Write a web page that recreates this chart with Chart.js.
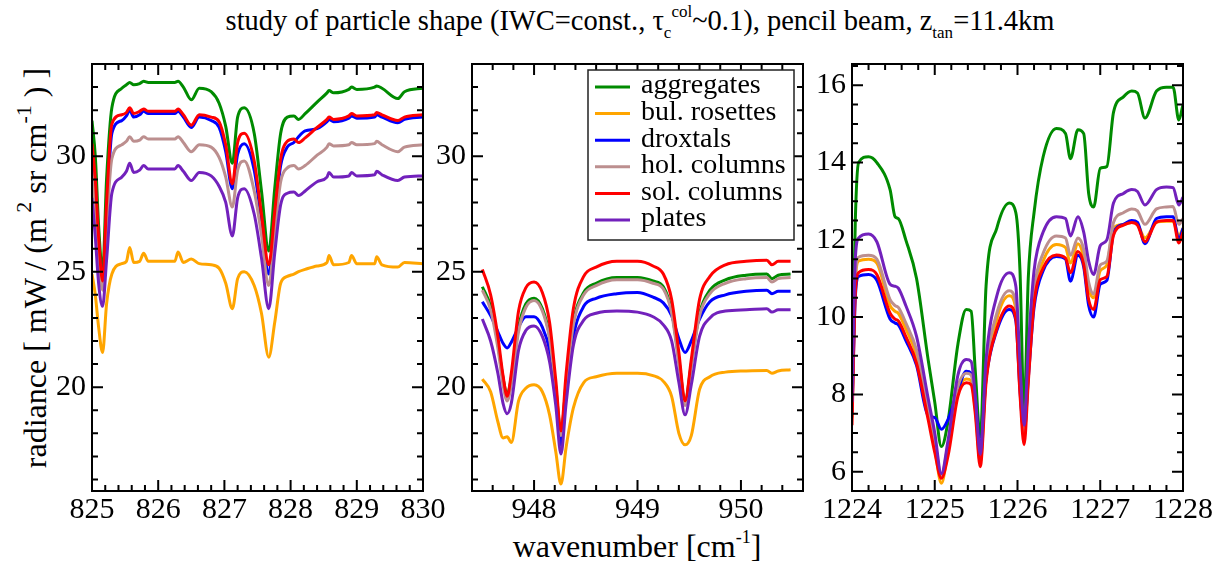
<!DOCTYPE html>
<html>
<head>
<meta charset="utf-8">
<script src="https://cdn.jsdelivr.net/npm/chart.js@4.4.1/dist/chart.umd.min.js"></script>
<style>
  body { margin: 0; background: #fff; width: 1223px; height: 567px; position: relative; overflow: hidden;
         font-family: "Liberation Serif", "Times New Roman", Times, serif; color: #000; }
  canvas { position: absolute; top: 40px; }
  #title { position: absolute; left: 640px; top: 7px; font-size: 28.5px; line-height: 1; white-space: nowrap;
           transform: translateX(-50%); }
  #ylab { position: absolute; left: 35px; top: 268px; font-size: 32px; line-height: 1; white-space: nowrap;
          transform: translate(-50%, -50%) rotate(-90deg); }
  #xlab { position: absolute; left: 637px; top: 530px; font-size: 32px; line-height: 1; white-space: nowrap;
          transform: translateX(-50%); }
  .sub { font-size: 17px; position: relative; top: 8px; }
  .sup { font-size: 17px; position: relative; top: -13px; }
  .ysup { font-size: 22px; position: relative; top: -15px; }
  .xsup { font-size: 18px; position: relative; top: -14px; }
</style>
</head>
<body>
<div id="title">study of particle shape (IWC=const., &tau;<span class="sub">c</span><span class="sup">col</span>~0.1), pencil beam, z<span class="sub">tan</span>=11.4km</div>
<div id="ylab">radiance [ mW / (m<span class="ysup">&nbsp;2</span> sr cm<span class="ysup">-1</span>&nbsp;) ]</div>
<div id="xlab">wavenumber [cm<span class="xsup">-1</span>]</div>
<canvas id="c825" width="462" height="527" style="left:0px"></canvas>
<canvas id="c948" width="430" height="527" style="left:410px"></canvas>
<canvas id="c1224" width="425" height="527" style="left:798px"></canvas>
<script>
// particle habits, in legend order
const shapes = ["aggregates", "bul. rosettes", "droxtals", "hol. columns", "sol. columns", "plates"];
const colors = ["#008b00", "#ffa500", "#0000ff", "#bc8f8f", "#ff0000", "#7221bc"];

// window 825-830 cm-1
const wn825 = [825.00, 825.05, 825.10, 825.16, 825.22, 825.30, 825.45, 825.52, 825.57, 825.63, 825.72, 825.78, 825.85,
  826.00, 826.25, 826.30, 826.38, 826.50, 826.62, 826.80, 826.92, 827.02, 827.12, 827.20, 827.30, 827.45, 827.56,
  827.67, 827.76, 827.85, 827.95, 828.05, 828.12, 828.22, 828.40, 828.55, 828.58, 828.65, 828.88, 828.92, 829.00,
  829.27, 829.30, 829.38, 829.62, 829.72, 830.00];
const agg825 = [31.55, 30.0, 27.0, 25.0, 29.0, 32.1, 32.95, 33.1, 33.2, 33.1, 33.15, 33.25, 33.2,
  33.2, 33.2, 33.25, 33.0, 32.45, 32.95, 32.8, 32.3, 31.3, 29.7, 31.7, 32.1, 31.0, 28.5,
  25.9, 28.6, 31.0, 31.7, 31.75, 31.6, 31.85, 32.35, 32.75, 32.85, 32.75, 32.9, 33.0, 32.9,
  33.0, 33.05, 32.95, 32.5, 32.8, 32.95];
const bul825 = [24.9, 24.0, 22.6, 21.5, 23.6, 24.9, 25.35, 25.45, 26.05, 25.4, 25.45, 25.8, 25.45,
  25.45, 25.45, 25.85, 25.4, 25.55, 25.35, 25.3, 25.15, 24.5, 23.4, 24.7, 25.0, 24.4, 23.2,
  21.3, 22.8, 24.5, 24.8, 24.9, 25.0, 25.1, 25.25, 25.4, 25.7, 25.3, 25.4, 25.7, 25.35,
  25.35, 25.65, 25.3, 25.2, 25.4, 25.35];
const drox825 = [30.3, 28.7, 26.2, 24.4, 27.5, 31.0, 31.55, 31.75, 32.0, 31.7, 31.8, 31.95, 31.85,
  31.85, 31.85, 31.95, 31.7, 31.25, 31.7, 31.55, 31.25, 30.2, 28.6, 30.1, 30.55, 29.4, 27.2,
  24.9, 27.3, 29.6, 30.4, 30.6, 30.85, 31.1, 31.2, 31.5, 31.6, 31.5, 31.65, 31.75, 31.65,
  31.7, 31.8, 31.7, 31.45, 31.6, 31.7];
const hol825 = [29.35, 27.8, 25.6, 24.2, 27.0, 29.9, 30.5, 30.65, 30.85, 30.65, 30.7, 30.85, 30.75,
  30.75, 30.75, 30.85, 30.6, 30.2, 30.5, 30.4, 29.95, 29.1, 27.8, 29.4, 29.8, 28.5, 26.6,
  24.4, 26.7, 28.9, 29.5, 29.6, 29.45, 29.6, 30.05, 30.4, 30.55, 30.45, 30.5, 30.6, 30.5,
  30.55, 30.65, 30.5, 30.2, 30.4, 30.5];
const sol825 = [30.55, 29.0, 26.5, 24.6, 28.0, 31.4, 31.8, 31.9, 32.1, 31.85, 31.95, 32.05, 31.95,
  31.95, 31.95, 32.05, 31.8, 31.35, 31.8, 31.7, 31.5, 30.5, 28.8, 30.6, 31.0, 29.8, 27.5,
  25.3, 27.6, 29.9, 30.65, 30.75, 30.6, 30.8, 31.25, 31.6, 31.7, 31.6, 31.75, 31.85, 31.75,
  31.8, 31.9, 31.8, 31.55, 31.7, 31.8];
const plt825 = [28.2, 26.5, 24.5, 23.5, 25.5, 28.4, 29.1, 29.35, 29.7, 29.3, 29.4, 29.6, 29.45,
  29.45, 29.45, 29.6, 29.35, 28.95, 29.3, 29.15, 28.7, 28.0, 26.55, 28.2, 28.6, 27.5, 25.6,
  23.4, 25.8, 27.9, 28.4, 28.45, 28.3, 28.5, 28.9, 29.1, 29.3, 29.1, 29.15, 29.3, 29.15,
  29.2, 29.35, 29.2, 28.95, 29.1, 29.15];

// window 947.5-950.5 cm-1
const wn948 = [947.50, 947.58, 947.65, 947.70, 947.74, 947.78, 947.85, 947.92, 948.00, 948.08, 948.15, 948.21,
  948.26, 948.31, 948.38, 948.48, 948.60, 948.80, 949.00, 949.15, 949.25, 949.33, 949.40, 949.46, 949.52,
  949.60, 949.70, 949.85, 950.05, 950.25, 950.30, 950.36, 950.48];
const agg948 = [24.35, 23.5, 21.9, 20.4, 19.7, 20.4, 22.6, 23.6, 23.85, 23.4, 22.2, 20.0,
  18.0, 20.2, 22.8, 24.1, 24.5, 24.75, 24.75, 24.6, 24.35, 23.3, 21.2, 19.4, 21.0,
  23.2, 24.2, 24.65, 24.85, 24.9, 24.7, 24.85, 24.9];
const bul948 = [20.35, 19.8, 18.5, 17.8, 17.85, 17.6, 19.4, 19.95, 20.1, 19.8, 18.8, 17.2,
  15.8, 17.4, 19.1, 20.2, 20.45, 20.6, 20.6, 20.5, 20.25, 19.6, 18.0, 17.5, 17.9,
  19.9, 20.45, 20.65, 20.7, 20.72, 20.6, 20.7, 20.75];
const drox948 = [23.7, 23.1, 22.4, 21.9, 21.7, 21.95, 22.6, 23.05, 23.05, 22.6, 21.6, 19.7,
  17.5, 19.8, 22.2, 23.5, 23.85, 24.05, 24.1, 23.9, 23.65, 23.1, 22.1, 21.5, 22.0,
  22.95, 23.7, 24.0, 24.15, 24.2, 24.05, 24.15, 24.15];
const hol948 = [24.2, 23.35, 21.7, 20.1, 19.4, 20.1, 22.4, 23.45, 23.75, 23.3, 22.1, 19.9,
  17.9, 20.1, 22.7, 24.0, 24.4, 24.65, 24.65, 24.5, 24.25, 23.2, 21.0, 19.2, 20.9,
  23.1, 24.05, 24.5, 24.7, 24.75, 24.55, 24.7, 24.75];
const sol948 = [25.1, 24.0, 22.2, 20.5, 19.6, 20.6, 23.3, 24.3, 24.55, 24.1, 22.8, 20.3,
  18.1, 20.6, 23.4, 24.8, 25.2, 25.45, 25.45, 25.25, 24.9, 23.8, 21.5, 19.4, 21.2,
  23.8, 24.8, 25.3, 25.45, 25.5, 25.3, 25.45, 25.45];
const plt948 = [22.95, 22.0, 20.6, 19.3, 18.85, 19.3, 21.6, 22.45, 22.65, 22.2, 21.1, 19.2,
  17.1, 19.3, 21.8, 22.9, 23.2, 23.3, 23.25, 23.05, 22.7, 22.0, 20.2, 18.8, 20.1,
  22.2, 23.0, 23.3, 23.35, 23.4, 23.25, 23.35, 23.35];

// window 1224-1228 cm-1
const wn1224 = [1224.00, 1224.04, 1224.08, 1224.20, 1224.30, 1224.46, 1224.52, 1224.56, 1224.65, 1224.78, 1224.92,
  1225.00, 1225.08, 1225.16, 1225.28, 1225.38, 1225.44, 1225.49, 1225.55, 1225.62, 1225.75, 1225.90, 1225.98,
  1226.03, 1226.08, 1226.13, 1226.20, 1226.31, 1226.47, 1226.58, 1226.64, 1226.73, 1226.80, 1226.86, 1226.92,
  1227.00, 1227.08, 1227.16, 1227.28, 1227.38, 1227.45, 1227.54, 1227.68, 1227.80, 1227.88, 1227.95, 1228.00];
const agg1224 = [8.0, 12.5, 14.0, 14.15, 14.0, 13.3, 12.6, 12.55, 12.0, 11.0, 8.9,
  7.8, 6.65, 7.3, 9.3, 10.2, 10.15, 8.6, 6.9, 10.8, 12.3, 12.95, 12.7,
  11.2, 7.5, 11.0, 12.7, 14.15, 14.88, 14.75, 14.1, 14.85, 14.75, 13.2, 12.85,
  13.85, 13.9, 15.3, 15.7, 15.85, 15.8, 15.15, 15.85, 15.95, 15.95, 15.1, 15.5];
const bul1224 = [7.4, 10.9, 11.45, 11.5, 11.4, 10.3, 10.15, 10.1, 9.7, 9.0, 7.45,
  6.6, 5.7, 6.55, 8.05, 8.4, 8.35, 7.6, 6.25, 8.45, 9.95, 10.55, 10.2,
  8.3, 6.9, 8.6, 10.5, 11.45, 11.88, 11.8, 11.4, 11.9, 11.55, 10.75, 10.5,
  11.2, 11.35, 12.3, 12.4, 12.45, 12.4, 12.05, 12.45, 12.48, 12.48, 12.1, 12.3];
const drox1224 = [7.5, 10.5, 11.05, 11.1, 10.95, 9.95, 9.85, 9.8, 9.4, 8.75, 7.45,
  7.4, 7.1, 7.35, 8.1, 8.6, 8.55, 7.9, 6.6, 8.4, 9.65, 10.2, 9.9,
  8.1, 7.0, 8.4, 10.25, 11.2, 11.57, 11.5, 10.93, 11.6, 11.3, 10.3, 10.0,
  10.85, 10.95, 12.17, 12.4, 12.5, 12.45, 11.9, 12.55, 12.6, 12.6, 12.0, 12.3];
const hol1224 = [7.6, 11.0, 11.55, 11.6, 11.5, 10.45, 10.3, 10.25, 9.85, 9.15, 7.6,
  6.8, 5.9, 6.7, 8.2, 8.55, 8.5, 7.7, 6.35, 8.6, 10.1, 10.68, 10.35,
  8.5, 7.0, 8.8, 10.7, 11.65, 12.1, 12.05, 11.6, 12.05, 11.75, 10.9, 10.6,
  11.35, 11.45, 12.45, 12.7, 12.8, 12.75, 12.4, 12.8, 12.85, 12.86, 12.4, 12.55];
const sol1224 = [7.2, 10.6, 11.15, 11.23, 11.1, 10.1, 9.95, 9.9, 9.5, 8.8, 7.35,
  6.5, 5.83, 6.4, 7.95, 8.3, 8.25, 7.5, 6.13, 8.3, 9.7, 10.29, 9.95,
  8.0, 6.7, 8.3, 10.35, 11.27, 11.61, 11.53, 11.15, 11.7, 11.36, 10.45, 10.2,
  10.97, 11.05, 12.12, 12.38, 12.45, 12.38, 11.95, 12.46, 12.5, 12.5, 11.92, 12.2];
const plt1224 = [7.8, 11.5, 12.05, 12.15, 11.95, 10.85, 10.8, 10.75, 10.3, 9.5, 7.9,
  7.0, 5.95, 6.8, 8.5, 8.9, 8.85, 7.95, 6.45, 8.9, 10.55, 11.15, 10.8,
  8.8, 7.2, 9.2, 11.2, 12.2, 12.6, 12.55, 12.1, 12.6, 12.2, 11.45, 11.1,
  11.85, 12.0, 12.95, 13.2, 13.3, 13.25, 12.9, 13.3, 13.37, 13.35, 12.9, 13.1];

// labelled tick values
const xTicks825 = [825, 826, 827, 828, 829, 830];
const xTicks948 = [948, 949, 950];
const xTicks1224 = [1224, 1225, 1226, 1227, 1228];
const yTicksRad = [20, 25, 30];
const yTicks1224 = [6, 8, 10, 12, 14, 16];

const FONT = "'Liberation Serif', 'Times New Roman', Times, serif";

// box around the plot with inward major/minor ticks on all four sides
const framePlugin = {
  id: "frame",
  afterDatasetsDraw(chart, args, o) {
    const { ctx, chartArea: a, scales: { x, y } } = chart;
    ctx.save();
    ctx.strokeStyle = "#000";
    ctx.lineWidth = 2;
    ctx.beginPath();
    const marks = (scale, minor, major, cb) => {
      const k0 = Math.ceil(scale.min / minor - 1e-6), k1 = Math.floor(scale.max / minor + 1e-6);
      for (let k = k0; k <= k1; k++) {
        const v = k * minor;
        const r = v / major;
        const len = Math.abs(r - Math.round(r)) < 1e-6 ? 11 : 6;
        cb(scale.getPixelForValue(v), len);
      }
    };
    marks(x, o.xMinor, o.xMajor, (p, len) => {
      ctx.moveTo(p, a.bottom); ctx.lineTo(p, a.bottom - len);
      ctx.moveTo(p, a.top); ctx.lineTo(p, a.top + len);
    });
    marks(y, o.yMinor, o.yMajor, (p, len) => {
      ctx.moveTo(a.left, p); ctx.lineTo(a.left + len, p);
      ctx.moveTo(a.right, p); ctx.lineTo(a.right - len, p);
    });
    ctx.stroke();
    ctx.strokeRect(a.left, a.top, a.right - a.left, a.bottom - a.top);
    ctx.restore();
  }
};

// legend box drawn inside the middle panel
const boxLegend = {
  id: "boxLegend",
  afterDraw(chart, args, o) {
    if (!o.show) return;
    const { ctx, chartArea: a } = chart;
    const bx = a.left + 116, by = a.top + 6, bw = 206, bh = 170;
    ctx.save();
    ctx.fillStyle = "#fff";
    ctx.fillRect(bx, by, bw, bh);
    ctx.strokeStyle = "#222";
    ctx.lineWidth = 1.5;
    ctx.strokeRect(bx, by, bw, bh);
    ctx.font = "28px " + FONT;
    ctx.textBaseline = "middle";
    chart.data.datasets.forEach((ds, i) => {
      const ly = by + 17 + i * 26.6;
      ctx.strokeStyle = ds.borderColor;
      ctx.lineWidth = 3;
      ctx.beginPath();
      ctx.moveTo(bx + 7, ly);
      ctx.lineTo(bx + 42, ly);
      ctx.stroke();
      ctx.fillStyle = "#000";
      ctx.fillText(ds.label, bx + 53, ly - 1);
    });
    ctx.restore();
  }
};

function makePanel(id, wn, ys, xr, yr, xTicks, yTicks, yw, ticks, legend) {
  const datasets = ys.map((vals, i) => ({
    label: shapes[i],
    data: wn.map((w, j) => ({ x: w, y: vals[j] })),
    borderColor: colors[i],
    borderWidth: 3,
    pointRadius: 0,
    fill: false,
    cubicInterpolationMode: "monotone",
    order: ys.length - i,
  }));
  return new Chart(document.getElementById(id).getContext("2d"), {
    type: "line",
    data: { datasets },
    options: {
      responsive: false,
      animation: false,
      events: [],
      layout: { padding: { top: 17, bottom: 16, left: 0, right: document.getElementById(id).width - yw - 331 } },
      scales: {
        x: {
          type: "linear", min: xr[0], max: xr[1],
          grid: { display: false, drawTicks: false }, border: { display: false },
          afterBuildTicks: s => { s.ticks = xTicks.map(v => ({ value: v })); },
          afterFit: s => { s.height = 60; },
          ticks: { autoSkip: false, maxRotation: 0, padding: 1, color: "#000", font: { family: FONT, size: 30 },
                   callback: v => String(v) },
        },
        y: {
          type: "linear", min: yr[0], max: yr[1],
          grid: { display: false, drawTicks: false }, border: { display: false },
          afterBuildTicks: s => { s.ticks = yTicks.map(v => ({ value: v })); },
          afterFit: s => { s.width = yw; },
          ticks: { padding: 6, color: "#000", font: { family: FONT, size: 30 }, callback: v => String(v) },
        },
      },
      plugins: {
        legend: { display: false },
        tooltip: { enabled: false },
        frame: ticks,
        boxLegend: { show: legend },
      },
    },
    plugins: [framePlugin, boxLegend],
  });
}

makePanel("c825", wn825, [agg825, bul825, drox825, hol825, sol825, plt825], [825, 830], [15.5, 34],
  xTicks825, yTicksRad, 92, { xMinor: 0.2, xMajor: 1, yMinor: 1, yMajor: 5 }, false);
makePanel("c948", wn948, [agg948, bul948, drox948, hol948, sol948, plt948], [947.4, 950.6], [15.5, 34],
  xTicks948, yTicksRad, 62, { xMinor: 0.2, xMajor: 1, yMinor: 1, yMajor: 5 }, true);
makePanel("c1224", wn1224, [agg1224, bul1224, drox1224, hol1224, sol1224, plt1224], [1224, 1228], [5.5, 16.55],
  xTicks1224, yTicks1224, 54, { xMinor: 0.2, xMajor: 1, yMinor: 0.5, yMajor: 2 }, false);
</script>
</body>
</html>
